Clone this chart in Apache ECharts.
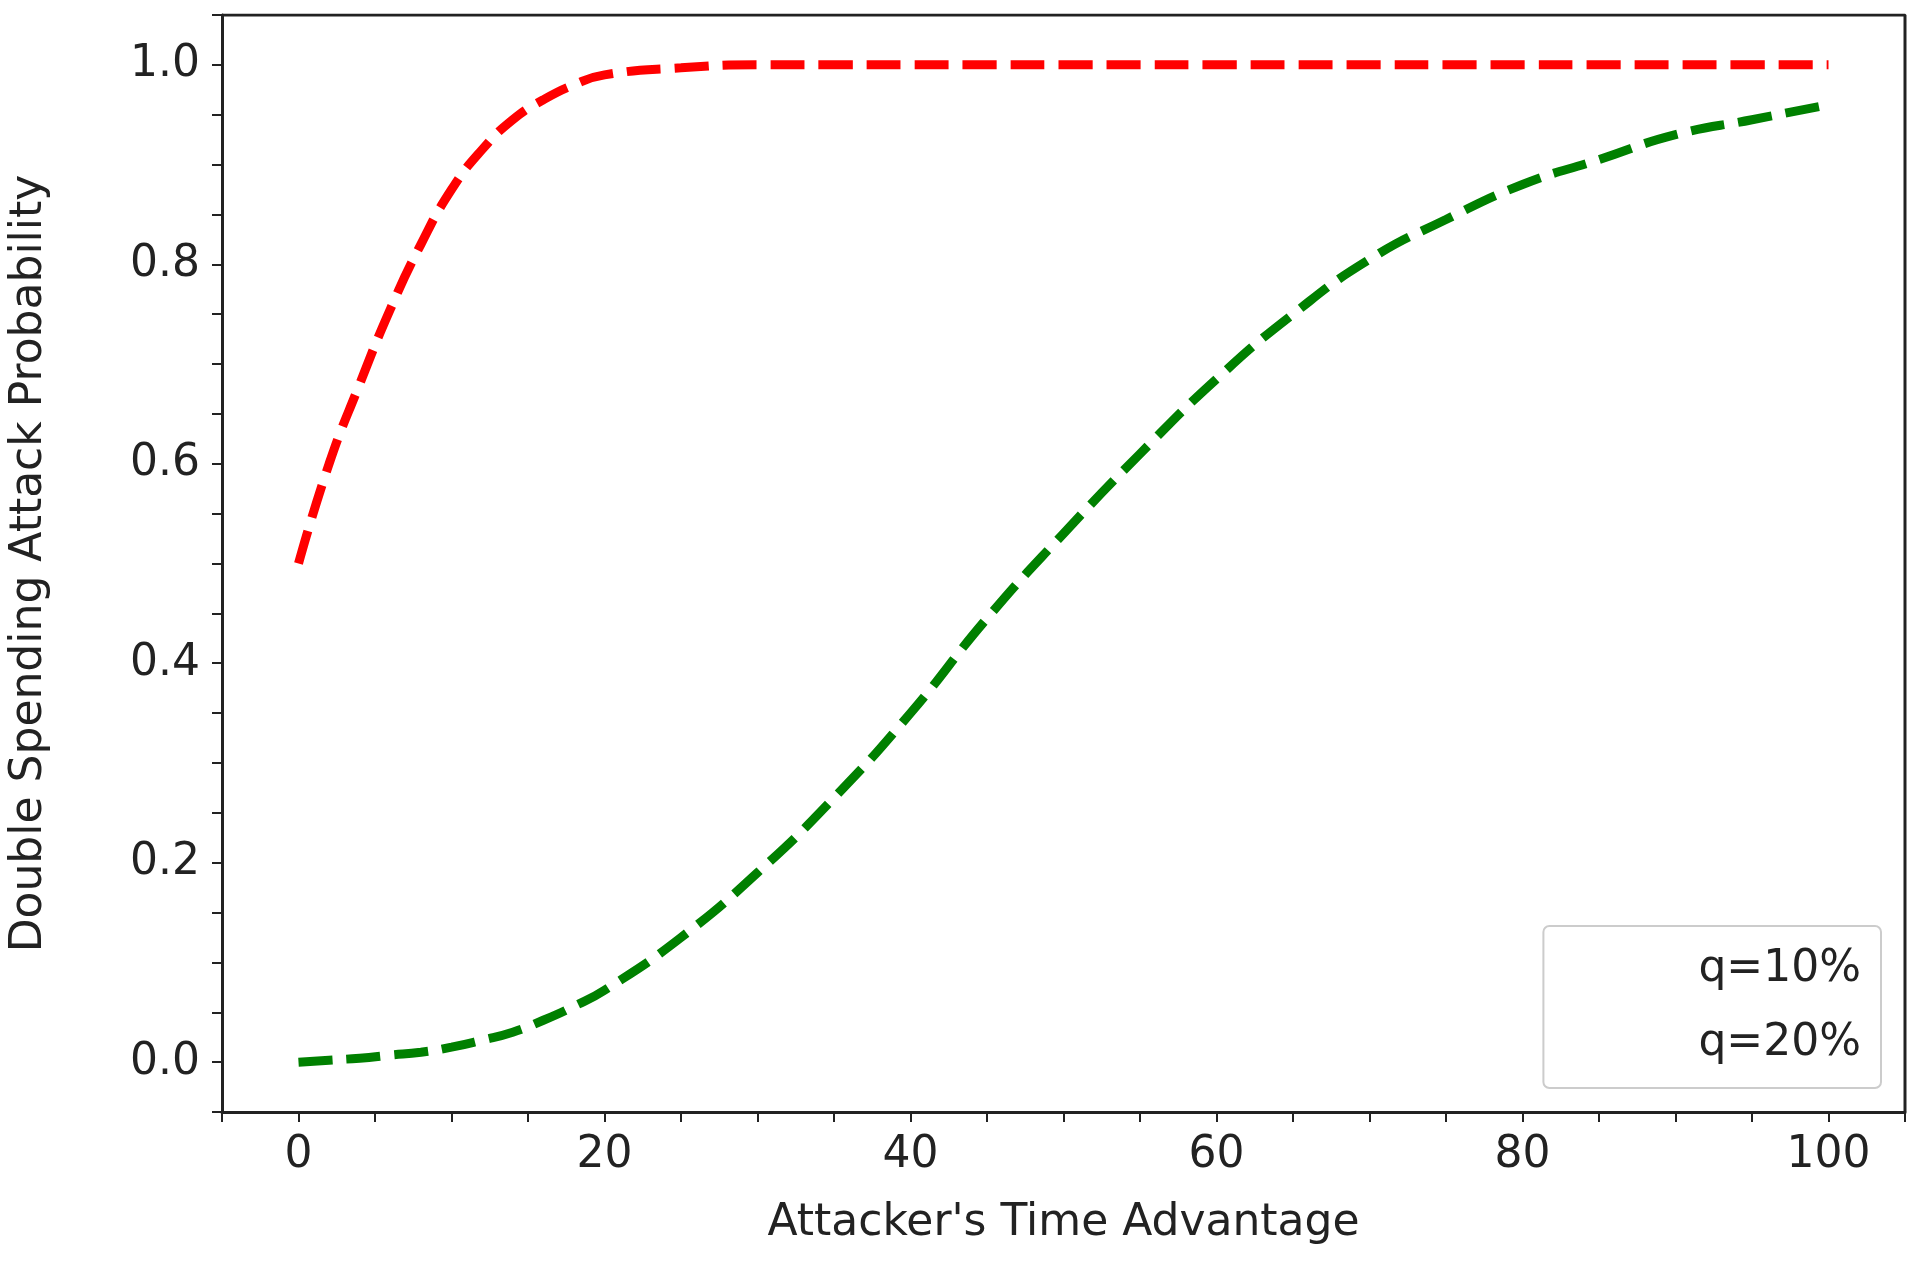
<!DOCTYPE html>
<html><head><meta charset="utf-8">
<script src="https://cdn.jsdelivr.net/npm/echarts@6/dist/echarts.min.js"></script>
<style>html,body{margin:0;background:#fff}#mainBox{width:1911px;height:1278px}</style>
</head><body><div id="mainBox"></div>
<script>
// values
var xs = [0, 2, 4, 6, 8, 10, 12, 14, 16, 18, 20, 25, 30, 35, 40, 45, 50, 55, 60, 65, 70, 75, 80, 85, 90, 95, 100];
var q10 = [0.0, 0.002, 0.004, 0.007, 0.01, 0.015, 0.022, 0.03, 0.042, 0.056, 0.072, 0.125, 0.19, 0.265, 0.35, 0.445, 0.53, 0.61, 0.685, 0.75, 0.805, 0.845, 0.88, 0.905, 0.93, 0.945, 0.96];
var q20 = [0.5, 0.6, 0.68, 0.755, 0.82, 0.875, 0.915, 0.945, 0.965, 0.98, 0.99, 0.997, 1.0, 1.0, 1.0, 1.0, 1.0, 1.0, 1.0, 1.0, 1.0, 1.0, 1.0, 1.0, 1.0, 1.0, 1.0];
var xTicks = [0, 20, 40, 60, 80, 100];

function pairs(ys){ return xs.map(function(x,i){ return [x, ys[i]]; }); }

var myChart = echarts.init(document.getElementById('mainBox'));
var font = 'DejaVu Sans';
var lineStyle = function(c){ return {color: c, width: 9, type: [34, 14]}; };
var option = {
    animation: false,
    grid: {left: 220, top: 15, width: 1685, height: 1097},
    xAxis: {
        type: 'value', min: -5, max: 105, interval: 5,
        name: "Attacker's Time Advantage", nameLocation: 'middle', nameGap: 90,
        nameTextStyle: {fontFamily: font, fontSize: 44, color: '#222'},
        axisLine: {show: true, onZero: false, lineStyle: {color: '#222', width: 3}},
        axisTick: {show: true, length: 10, lineStyle: {color: '#222', width: 2},
            interval: function(i, v){ return xTicks.indexOf(v) >= 0; }},
        axisLabel: {fontFamily: font, fontSize: 44, color: '#222', margin: 22,
            formatter: function(v){ return xTicks.indexOf(v) >= 0 ? v : ''; }},
        splitLine: {show: false}
    },
    yAxis: {
        type: 'value', min: -0.05, max: 1.05, interval: 0.05,
        name: 'Double Spending Attack Probability', nameLocation: 'middle', nameGap: 170,
        nameTextStyle: {fontFamily: font, fontSize: 44, color: '#222'},
        axisLine: {show: true, onZero: false, lineStyle: {color: '#222', width: 3}},
        axisTick: {show: true, length: 10, lineStyle: {color: '#222', width: 2}},
        axisLabel: {fontFamily: font, fontSize: 44, color: '#222', margin: 22,
            formatter: function(v){
                var r = Math.round(v * 100);
                return (r >= 0 && r % 20 === 0) ? (r / 100).toFixed(1) : '';
            }},
        splitLine: {show: false}
    },
    legend: {
        right: 30, bottom: 190, orient: 'vertical',
        backgroundColor: '#fff', borderColor: '#ccc', borderWidth: 2, borderRadius: 6,
        padding: [22, 20, 22, 20], itemGap: 30, itemWidth: 100, itemHeight: 20,
        textStyle: {fontFamily: font, fontSize: 44, color: '#222', padding: [0, 0, 0, 30]},
        data: [{name: 'q=10%', icon: 'none'}, {name: 'q=20%', icon: 'none'}]
    },
    series: [
        {name: 'q=10%', type: 'line', data: pairs(q10), smooth: true, showSymbol: false,
         lineStyle: lineStyle('#008000'), itemStyle: {color: '#008000'}},
        {name: 'q=20%', type: 'line', data: pairs(q20), smooth: true, showSymbol: false,
         lineStyle: lineStyle('#ff0000'), itemStyle: {color: '#ff0000'}},
        // plot frame top/right
        {type: 'line', data: [[-5, 1.05], [105, 1.05], [105, -0.05]], showSymbol: false,
         silent: true, lineStyle: {color: '#222', width: 3}, z: 1}
    ]
};
myChart.setOption(option);
</script></body></html>
